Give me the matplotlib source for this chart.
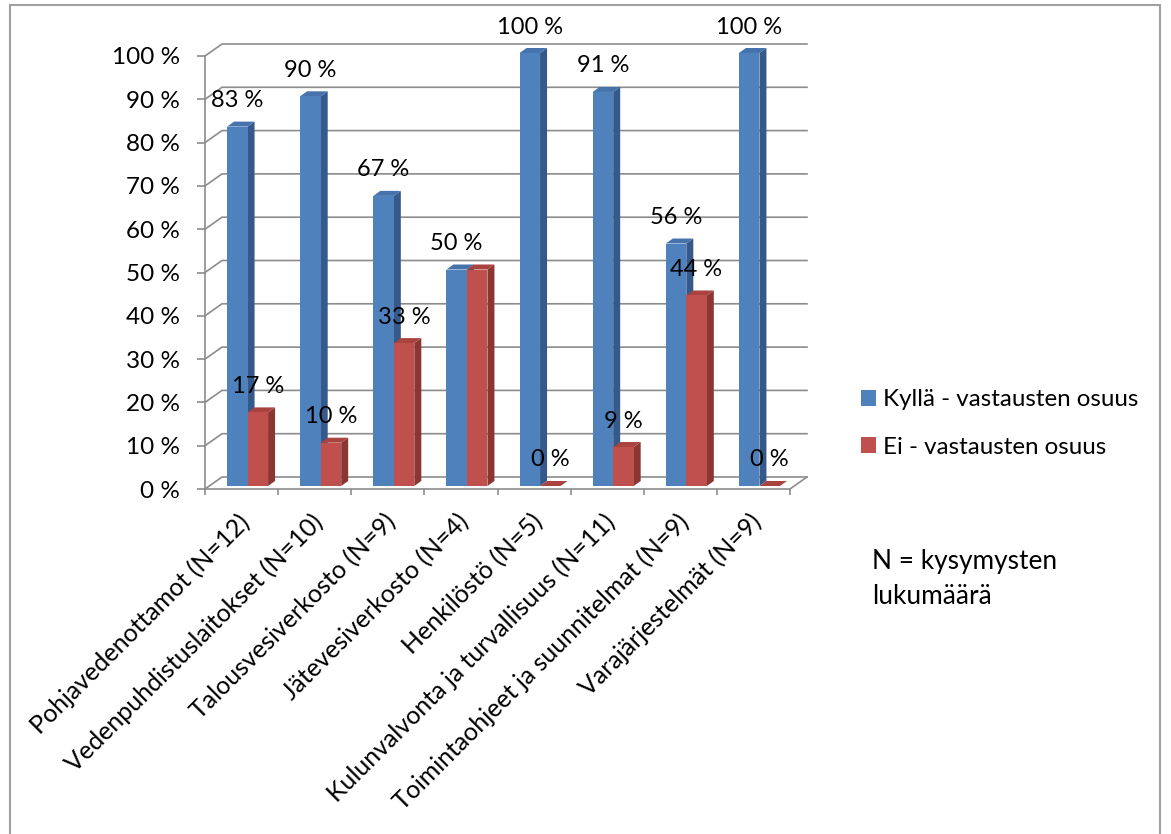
import numpy as np
import matplotlib.pyplot as plt
from matplotlib.patches import Polygon, Patch, Rectangle
from matplotlib.transforms import offset_copy

plt.rcParams['font.family'] = ['Lato', 'DejaVu Sans']

categories = [
    "Pohjavedenottamot (N=12)",
    "Vedenpuhdistuslaitokset (N=10)",
    "Talousvesiverkosto (N=9)",
    "Jätevesiverkosto (N=4)",
    "Henkilöstö (N=5)",
    "Kulunvalvonta ja turvallisuus (N=11)",
    "Toimintaohjeet ja suunnitelmat (N=9)",
    "Varajärjestelmät (N=9)",
]
kylla = [83, 90, 67, 50, 100, 91, 56, 100]
ei = [17, 10, 33, 50, 0, 9, 44, 0]
yticks = np.arange(0, 101, 10)
series_names = ["Kyllä - vastausten osuus", "Ei - vastausten osuus"]

BLUE, BLUE_TOP, BLUE_SIDE = "#4F81BD", "#4673AB", "#35598B"
RED, RED_TOP, RED_SIDE = "#C0504D", "#A8433F", "#8C3633"
GRID = "#8C8C8C"

W, H = 1171, 834
fig = plt.figure(figsize=(W / 100, H / 100), dpi=100)
ax = fig.add_axes([205 / W, (H - 489) / H, 585 / W, 433 / H])
ax.set_xlim(-0.5, 7.5)
ax.set_ylim(0, 100)
ax.patch.set_visible(False)
for s in ["top", "right"]:
    ax.spines[s].set_visible(False)
for s in ["left", "bottom"]:
    ax.spines[s].set_color(GRID)
    ax.spines[s].set_linewidth(1.2)
ax.set_yticks(yticks, [f"{v} %" for v in yticks], fontsize=17.5)
ax.set_xticks(np.arange(-0.5, 8, 1), [])
ax.tick_params(axis="both", direction="out", color=GRID, width=1.2)
ax.tick_params(axis="y", length=6, pad=12)
ax.tick_params(axis="x", length=4.5)

# pixel size of one data unit
x0, y0 = ax.transData.transform((0, 0))
x1, y1 = ax.transData.transform((1, 1))
sx, sy = x1 - x0, y1 - y0


def shift(x, y, dx, dy):
    """Move a data point by (dx, dy) screen pixels."""
    return x + dx / sx, y + dy / sy


# back wall and left side wall gridlines
for v in yticks:
    bx0, by = shift(-0.5, v, 17, 12)
    bx1, _ = shift(7.5, v, 17, 12)
    ax.plot([-0.5, bx0, bx1], [v, by, by], color=GRID, lw=1.2,
            clip_on=False, zorder=1)
fx, fy = shift(7.5, 0, 17, 12)
ax.plot([7.5, fx], [0, fy], color=GRID, lw=1.2, clip_on=False, zorder=1)

# bars: front faces from ax.bar, side and top faces as polygons
w = 20.5 / sx
xs = np.arange(len(categories)) + 6 / sx
base = 3 / sy
ddx, ddy = 7, 5

for vals, off, (front, top_c, side_c), z in [
    (kylla, -w / 2, (BLUE, BLUE_TOP, BLUE_SIDE), 2.0),
    (ei, w / 2, (RED, RED_TOP, RED_SIDE), 2.5),
]:
    xc = xs + off
    ax.bar(xc, vals, width=w, bottom=base, color=front, zorder=3,
           clip_on=False)
    for i, (x, v) in enumerate(zip(xc, vals)):
        l, r, b, t = x - w / 2, x + w / 2, base, base + v
        side = [(r, b), (r, t), shift(r, t, ddx, ddy), shift(r, b, ddx, ddy)]
        topf = [(l, t), (r, t), shift(r, t, ddx, ddy), shift(l, t, ddx, ddy)]
        ax.add_patch(Polygon(side, closed=True, fc=side_c, ec="none",
                             zorder=z, clip_on=False))
        ax.add_patch(Polygon(topf, closed=True, fc=top_c, ec="none",
                             zorder=z, clip_on=False))
        # equal pairs share one label
        if vals is ei and v == kylla[i]:
            continue
        ax.annotate(f"{v} %", xy=(x, t), xytext=(0, 26),
                    textcoords="offset pixels", ha="center", va="center",
                    fontsize=17, zorder=6, annotation_clip=False)

# category labels
lab_tr = offset_copy(ax.get_xaxis_transform(), fig=fig, x=4.5, y=-29,
                     units="dots")
for i, c in enumerate(categories):
    ax.text(i, 0, c, transform=lab_tr, rotation=45, rotation_mode="anchor",
            ha="right", va="center", fontsize=18)

fig.legend(handles=[Patch(facecolor=BLUE), Patch(facecolor=RED)],
           labels=series_names, loc="center left",
           bbox_to_anchor=(861 / W, 1 - 423.5 / H), frameon=False,
           fontsize=17.4, handlelength=0.62, handleheight=0.62,
           handletextpad=0.3, labelspacing=1.1, borderpad=0,
           borderaxespad=0)

fig.text(872 / W, 1 - 579 / H, "N = kysymysten\nlukumäärä", ha="left",
         va="center", fontsize=18.9, linespacing=1.55)

fig.add_artist(Rectangle((10 / W, -0.01), 1150 / W, 1.01 - 5 / H,
                         transform=fig.transFigure, fill=False,
                         ec="#A0A0A0", lw=1.5))

fig.savefig("out.png", dpi=100)
